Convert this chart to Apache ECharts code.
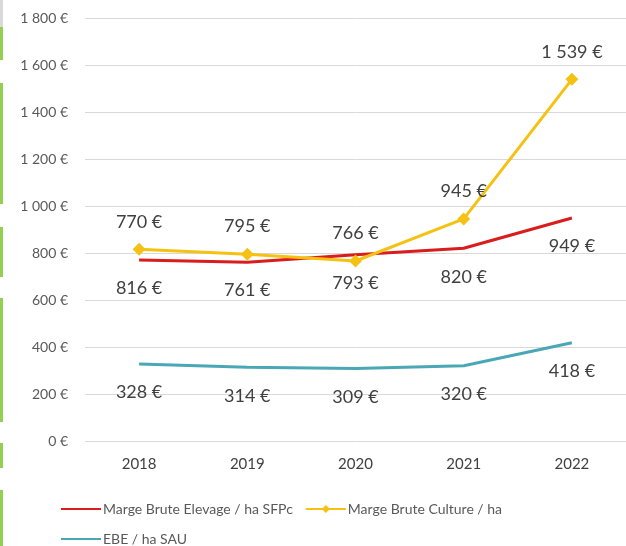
<!DOCTYPE html>
<html>
<head>
<meta charset="utf-8">
<script src="https://cdn.jsdelivr.net/npm/echarts@6/dist/echarts.min.js"></script>
<style>
  html, body { margin: 0; padding: 0; background: #fff; }
  #chart { width: 626px; height: 546px; }
</style>
</head>
<body>
<div id="chart"></div>
<script>
// data
const years = ['2018', '2019', '2020', '2021', '2022']
const elevage = [770, 761, 793, 820, 949]
const culture = [816, 795, 766, 945, 1539]
const ebe = [328, 314, 309, 320, 418]
// labels as printed on the original (Excel swapped some of them)
const elevageLabels = [816, 761, 793, 820, 949]
const cultureLabels = [770, 795, 766, 945, 1539]
const ebeLabels = [328, 314, 309, 320, 418]

const euro = v => String(v).replace(/\B(?=(\d{3})+(?!\d))/g, ' ') + ' €'
const font = 'Lato, "Open Sans", sans-serif'

// green slide bars on the left edge
const bars = [[0, 27, '#d9d9d9'], [27, 60, '#92d050'], [83, 204, '#92d050'], [227, 277, '#92d050'],
  [298, 422, '#92d050'], [443, 468, '#92d050'], [490, 546, '#92d050']]

const chart = echarts.init(document.getElementById('chart'))
chart.setOption({
  animation: false,
  textStyle: { fontFamily: font },
  graphic: bars.map(b => ({
    type: 'rect',
    shape: { x: 0, y: b[0], width: 3, height: b[1] - b[0] },
    style: { fill: b[2] }
  })),
  grid: { left: 85, width: 550, top: 18, bottom: 105 },
  xAxis: {
    type: 'category',
    data: years,
    axisLine: { show: false },
    axisTick: { show: false },
    axisLabel: { color: '#404040', fontSize: 15, margin: 16, fontFamily: font }
  },
  yAxis: {
    type: 'value',
    min: 0,
    max: 1800,
    interval: 200,
    axisLabel: { formatter: euro, color: '#595959', fontSize: 14, margin: 17, fontFamily: font },
    splitLine: { lineStyle: { color: '#d9d9d9' } }
  },
  legend: [
    {
      data: ['Marge Brute Elevage / ha SFPc', 'Marge Brute Culture / ha'],
      left: 55, top: 497, itemWidth: 40, itemHeight: 10, itemGap: 12,
      textStyle: { color: '#595959', fontSize: 14, fontFamily: font, padding: [0, 0, 0, -3] }
    },
    {
      data: ['EBE / ha SAU'],
      left: 55, top: 527, itemWidth: 40, itemHeight: 10,
      textStyle: { color: '#595959', fontSize: 14, fontFamily: font, padding: [0, 0, 0, -3] }
    }
  ],
  series: [
    {
      name: 'Marge Brute Elevage / ha SFPc',
      type: 'line',
      data: elevage,
      symbol: 'circle',
      symbolSize: 1,
      lineStyle: { color: '#d91c1c', width: 3 },
      itemStyle: { color: 'transparent' },
      label: {
        show: true, position: 'bottom', distance: 19,
        color: '#404040', fontSize: 18, fontFamily: font,
        formatter: p => euro(elevageLabels[p.dataIndex])
      },
      z: 3
    },
    {
      name: 'Marge Brute Culture / ha',
      type: 'line',
      data: culture,
      symbol: 'diamond',
      symbolSize: 13,
      lineStyle: { color: '#f5c213', width: 3 },
      itemStyle: { color: '#f5c213' },
      label: {
        show: true, position: 'top', distance: 12,
        color: '#404040', fontSize: 18, fontFamily: font,
        formatter: p => euro(cultureLabels[p.dataIndex])
      },
      z: 4
    },
    {
      name: 'EBE / ha SAU',
      type: 'line',
      data: ebe,
      symbol: 'circle',
      symbolSize: 1,
      lineStyle: { color: '#4aa7b5', width: 3 },
      itemStyle: { color: 'transparent' },
      label: {
        show: true, position: 'bottom', distance: 19,
        color: '#404040', fontSize: 18, fontFamily: font,
        formatter: p => euro(ebeLabels[p.dataIndex])
      }
    }
  ]
})
</script>
</body>
</html>
